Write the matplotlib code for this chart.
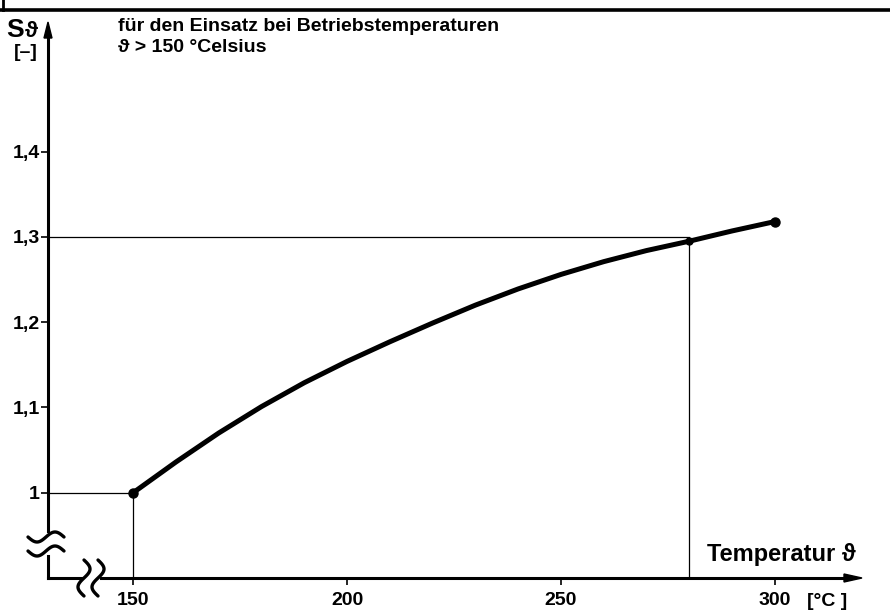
"""
Sicherheitsbeiwert S_theta ueber der Betriebstemperatur (> 150 Grad C).
Nachbau eines eingescannten Diagramms.
"""
import numpy as np
import matplotlib
matplotlib.use("Agg")
import matplotlib.pyplot as plt

# --- data --------------------------------------------------------------
temperatur = [150, 160, 170, 180, 190, 200, 210, 220,
              230, 240, 250, 260, 270, 280, 290, 300]
s_theta = [1.000, 1.036, 1.070, 1.101, 1.129, 1.154, 1.177, 1.199,
           1.220, 1.239, 1.256, 1.271, 1.284, 1.295, 1.307, 1.318]

x_ticks = [150, 200, 250, 300]
x_ticklabels = ["150", "200", "250", "300"]
y_ticks = [1.0, 1.1, 1.2, 1.3, 1.4]
y_ticklabels = ["1", "1,1", "1,2", "1,3", "1,4"]

# helper lines: (temperature, S) of the two marked points
ref_points_t = [150, 280]
ref_points_s = [1.0, 1.295]
ref_level_s = [1.0, 1.3]

FONT = ["Liberation Sans", "DejaVu Sans"]

W, H = 890, 616
AX_L, AX_R, AX_T, AX_B = 48, 857, 28, 578   # pixel box of the plot area
XLIM = (130.1, 319.2)
YLIM = (0.900, 1.545)


def tilde(deco, xc, yc, half, amp, vertical=False):
    """Break symbol: one period of a wave, drawn in pixel coordinates."""
    u = np.linspace(-half, half, 60)
    v = -amp * np.sin(np.pi * u / half)
    if vertical:
        deco.plot(xc + v, yc + u, color="black", lw=2.4,
                  solid_capstyle="round")
    else:
        deco.plot(xc + u, yc + v, color="black", lw=2.4,
                  solid_capstyle="round")


fig = plt.figure(figsize=(W / 100, H / 100), dpi=100)

# overlay in pixel coordinates for frame, axis lines and labels
deco = fig.add_axes([0, 0, 1, 1])
deco.set_xlim(0, W)
deco.set_ylim(H, 0)
deco.axis("off")

ax = fig.add_axes([AX_L / W, 1 - AX_B / H, (AX_R - AX_L) / W,
                   (AX_B - AX_T) / H])
ax.patch.set_alpha(0)
ax.set_xlim(*XLIM)
ax.set_ylim(*YLIM)
for sp in ax.spines.values():
    sp.set_visible(False)

# curve with end points
ax.plot(temperatur, s_theta, color="black", lw=3.6,
        solid_capstyle="round", zorder=3)
ax.plot([temperatur[0], temperatur[-1]], [s_theta[0], s_theta[-1]],
        "o", color="black", ms=6.5, zorder=4)
ax.plot(ref_points_t[1], ref_points_s[1], "o", color="black", ms=5,
        zorder=4)

# thin helper lines
for t, s, lvl in zip(ref_points_t, ref_points_s, ref_level_s):
    ax.plot([XLIM[0], t], [lvl, lvl], color="black", lw=0.9, zorder=2)
    ax.plot([t, t], [YLIM[0], s], color="black", lw=0.9, zorder=2)

ax.set_xticks(x_ticks)
ax.set_xticklabels(x_ticklabels)
ax.set_yticks(y_ticks)
ax.set_yticklabels(y_ticklabels)
ax.tick_params(axis="x", direction="out", length=5, width=1.2, pad=5)
ax.tick_params(axis="y", direction="out", length=5, width=1.2, pad=1)
for lab in ax.get_xticklabels() + ax.get_yticklabels():
    lab.set_family(FONT)
    lab.set_fontweight("bold")
    lab.set_fontsize(14)

# frame remnant at the top
deco.plot([0, W], [10, 10], color="black", lw=2.6)
deco.plot([2.5, 2.5], [0, 10], color="black", lw=2.0)

# y axis with break and arrow
deco.plot([AX_L, AX_L], [36, 531], color="black", lw=2.2)
deco.plot([AX_L, AX_L], [556, AX_B], color="black", lw=2.2)
deco.fill([AX_L, AX_L - 4, AX_L + 4], [22, 38, 38], color="black")
tilde(deco, 46, 537, 18, 5)
tilde(deco, 46, 551, 18, 5)

# x axis with break and arrow
deco.plot([AX_L, 81], [AX_B, AX_B], color="black", lw=2.2)
deco.plot([101, 846], [AX_B, AX_B], color="black", lw=2.2)
deco.fill([862, 844, 844], [AX_B, AX_B - 4, AX_B + 4], color="black")
tilde(deco, 84, AX_B, 18, 6, vertical=True)
tilde(deco, 98, AX_B, 18, 6, vertical=True)

# texts
deco.text(6, 37, "S", family=FONT, fontweight="bold", fontsize=19)
deco.text(25, 37, "ϑ", family=FONT, fontweight="bold", fontsize=16)
deco.text(14, 57, "[–]", family=FONT, fontweight="bold", fontsize=14)

deco.text(118, 31, "für den Einsatz bei Betriebstemperaturen",
          family=FONT, fontweight="bold", fontsize=14)
deco.text(118, 52, "ϑ > 150 °Celsius", family=FONT,
          fontweight="bold", fontsize=14)

deco.text(707, 561, "Temperatur ϑ", family=FONT, fontweight="bold",
          fontsize=17)
deco.text(807, 606, "[°C ]", family=FONT, fontweight="bold", fontsize=14)

fig.savefig("out.png", dpi=100)
plt.close(fig)
